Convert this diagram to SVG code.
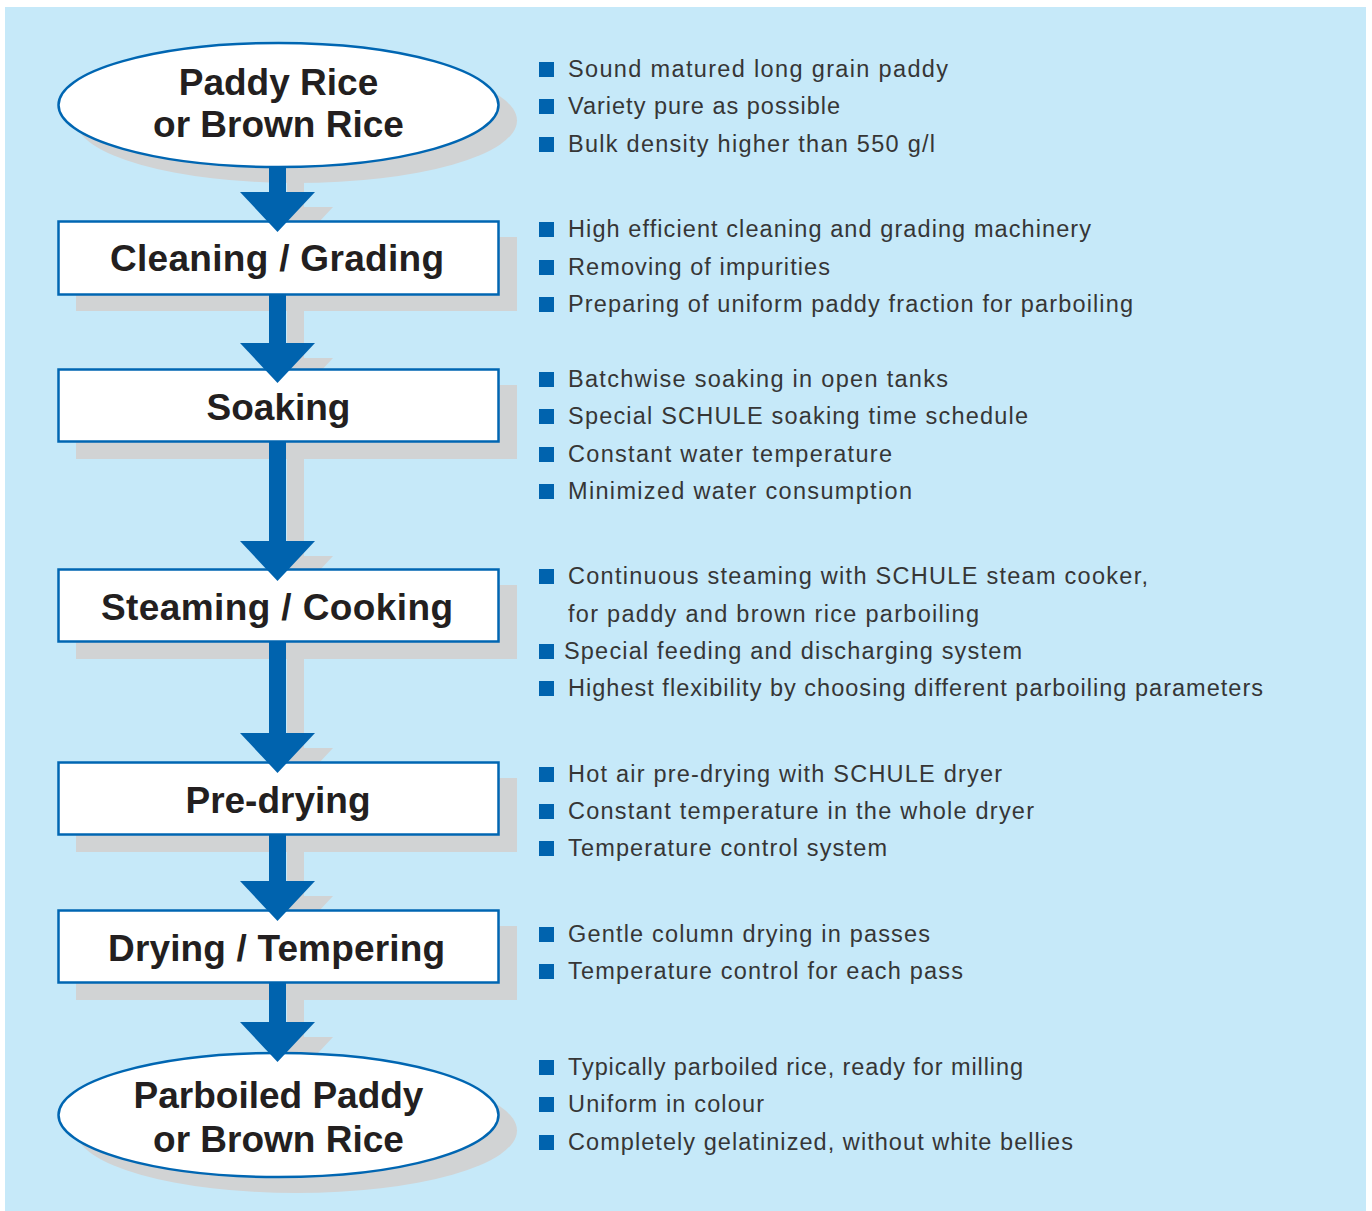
<svg xmlns="http://www.w3.org/2000/svg" width="1372" height="1211" viewBox="0 0 1372 1211">
<style>
.bg{fill:#c6e9f9}
.sh{fill:#d1d3d4}
.nd{fill:#ffffff;stroke:#0066b2;stroke-width:2.5}
.lbl{font-family:"Liberation Sans",Arial,sans-serif;font-weight:bold;font-size:37px;fill:#231f20;text-anchor:middle}
.ar{fill:#0063ae}
.bl{fill:#0063ae}
.tx{font-family:"Liberation Sans",Arial,sans-serif;font-size:23.5px;fill:#363636}
</style>
<rect class="bg" x="5" y="7" width="1361" height="1204"/>

<g id="shadows" class="sh">
<ellipse cx="296.5" cy="120.5" rx="220.5" ry="62.5"/>
<rect x="76" y="237" width="441" height="74"/>
<rect x="76" y="385" width="441" height="74"/>
<rect x="76" y="585" width="441" height="74"/>
<rect x="76" y="778" width="441" height="74"/>
<rect x="76" y="926" width="441" height="74"/>
<ellipse cx="296.5" cy="1130.5" rx="220.5" ry="62.5"/>
<rect x="287" y="182" width="17" height="30"/>
<polygon points="258,207 333,207 295.5,247"/>
<rect x="287" y="310" width="17" height="50"/>
<polygon points="258,358 333,358 295.5,398"/>
<rect x="287" y="457" width="17" height="100"/>
<polygon points="258,556 333,556 295.5,596"/>
<rect x="287" y="657" width="17" height="92"/>
<polygon points="258,748 333,748 295.5,788"/>
<rect x="287" y="850" width="17" height="47"/>
<polygon points="258,896 333,896 295.5,936"/>
<rect x="287" y="998" width="17" height="40"/>
<polygon points="258,1037 333,1037 295.5,1077"/>
</g>

<g id="node-paddy">
<ellipse class="nd" cx="278.5" cy="105" rx="220" ry="62"/>
<text class="lbl" x="278.5" y="95">Paddy Rice</text>
<text class="lbl" x="278.5" y="137">or Brown Rice</text>
</g>
<g id="node-cleaning">
<rect class="nd" x="58.5" y="221.5" width="440" height="73"/>
<text class="lbl" x="277" y="271" textLength="334" lengthAdjust="spacing">Cleaning / Grading</text>
</g>
<g id="node-soaking">
<rect class="nd" x="58.5" y="369.5" width="440" height="72"/>
<text class="lbl" x="278.5" y="420">Soaking</text>
</g>
<g id="node-steaming">
<rect class="nd" x="58.5" y="569.5" width="440" height="72"/>
<text class="lbl" x="277" y="620" textLength="352" lengthAdjust="spacing">Steaming / Cooking</text>
</g>
<g id="node-predrying">
<rect class="nd" x="58.5" y="762.5" width="440" height="72"/>
<text class="lbl" x="278" y="813">Pre-drying</text>
</g>
<g id="node-drying">
<rect class="nd" x="58.5" y="910.5" width="440" height="72"/>
<text class="lbl" x="276.5" y="961" textLength="337" lengthAdjust="spacing">Drying / Tempering</text>
</g>
<g id="node-parboiled">
<ellipse class="nd" cx="278.5" cy="1115" rx="220" ry="62"/>
<text class="lbl" x="278.5" y="1108">Parboiled Paddy</text>
<text class="lbl" x="278.5" y="1152">or Brown Rice</text>
</g>

<g id="connectors" class="ar">
<rect x="269" y="166" width="17" height="28"/>
<polygon points="240,192 315,192 277.5,232"/>
<rect x="269" y="294" width="17" height="51"/>
<polygon points="240,343 315,343 277.5,383"/>
<rect x="269" y="441" width="17" height="102"/>
<polygon points="240,541 315,541 277.5,581"/>
<rect x="269" y="641" width="17" height="94"/>
<polygon points="240,733 315,733 277.5,773"/>
<rect x="269" y="834" width="17" height="49"/>
<polygon points="240,881 315,881 277.5,921"/>
<rect x="269" y="982" width="17" height="42"/>
<polygon points="240,1022 315,1022 277.5,1062"/>
</g>

<g id="bullets" class="bl">
<rect x="539" y="62" width="15" height="15"/>
<rect x="539" y="99" width="15" height="15"/>
<rect x="539" y="137" width="15" height="15"/>
<rect x="539" y="222" width="15" height="15"/>
<rect x="539" y="260" width="15" height="15"/>
<rect x="539" y="297" width="15" height="15"/>
<rect x="539" y="372" width="15" height="15"/>
<rect x="539" y="409" width="15" height="15"/>
<rect x="539" y="447" width="15" height="15"/>
<rect x="539" y="484" width="15" height="15"/>
<rect x="539" y="569" width="15" height="15"/>
<rect x="539" y="644" width="15" height="15"/>
<rect x="539" y="681" width="15" height="15"/>
<rect x="539" y="767" width="15" height="15"/>
<rect x="539" y="804" width="15" height="15"/>
<rect x="539" y="841" width="15" height="15"/>
<rect x="539" y="927" width="15" height="15"/>
<rect x="539" y="964" width="15" height="15"/>
<rect x="539" y="1060" width="15" height="15"/>
<rect x="539" y="1097" width="15" height="15"/>
<rect x="539" y="1135" width="15" height="15"/>
</g>

<g id="notes" class="tx">
<text x="568" y="77" textLength="380" lengthAdjust="spacing">Sound matured long grain paddy</text>
<text x="568" y="114" textLength="272" lengthAdjust="spacing">Variety pure as possible</text>
<text x="568" y="152" textLength="367" lengthAdjust="spacing">Bulk density higher than 550 g/l</text>
<text x="568" y="237" textLength="523" lengthAdjust="spacing">High efficient cleaning and grading machinery</text>
<text x="568" y="275" textLength="262" lengthAdjust="spacing">Removing of impurities</text>
<text x="568" y="312" textLength="565" lengthAdjust="spacing">Preparing of uniform paddy fraction for parboiling</text>
<text x="568" y="387" textLength="380" lengthAdjust="spacing">Batchwise soaking in open tanks</text>
<text x="568" y="424" textLength="460" lengthAdjust="spacing">Special SCHULE soaking time schedule</text>
<text x="568" y="462" textLength="324" lengthAdjust="spacing">Constant water temperature</text>
<text x="568" y="499" textLength="344" lengthAdjust="spacing">Minimized water consumption</text>
<text x="568" y="584" textLength="580" lengthAdjust="spacing">Continuous steaming with SCHULE steam cooker,</text>
<text x="568" y="622" textLength="411" lengthAdjust="spacing">for paddy and brown rice parboiling</text>
<text x="564" y="659" textLength="458" lengthAdjust="spacing">Special feeding and discharging system</text>
<text x="568" y="696" textLength="695" lengthAdjust="spacing">Highest flexibility by choosing different parboiling parameters</text>
<text x="568" y="782" textLength="434" lengthAdjust="spacing">Hot air pre-drying with SCHULE dryer</text>
<text x="568" y="819" textLength="466" lengthAdjust="spacing">Constant temperature in the whole dryer</text>
<text x="568" y="856" textLength="319" lengthAdjust="spacing">Temperature control system</text>
<text x="568" y="942" textLength="362" lengthAdjust="spacing">Gentle column drying in passes</text>
<text x="568" y="979" textLength="395" lengthAdjust="spacing">Temperature control for each pass</text>
<text x="568" y="1075" textLength="455" lengthAdjust="spacing">Typically parboiled rice, ready for milling</text>
<text x="568" y="1112" textLength="196" lengthAdjust="spacing">Uniform in colour</text>
<text x="568" y="1150" textLength="505" lengthAdjust="spacing">Completely gelatinized, without white bellies</text>
</g>
</svg>
